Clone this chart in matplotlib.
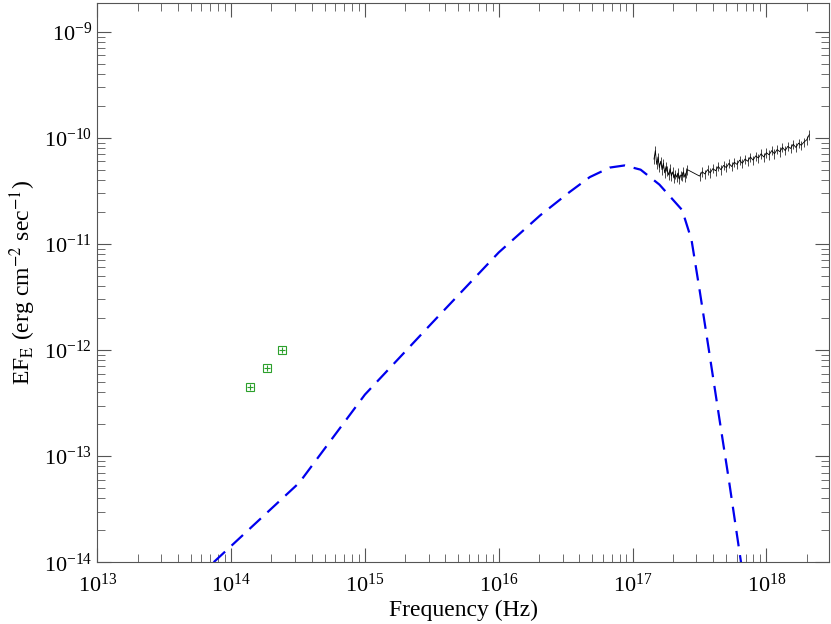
import numpy as np
import matplotlib
matplotlib.use('Agg')
import matplotlib.pyplot as plt

plt.rcParams['font.family'] = 'Liberation Serif'
plt.rcParams['mathtext.fontset'] = 'stix'

# optical points (green)
opt_freq = [1.38e14, 1.86e14, 2.40e14]
opt_flux = [4.5e-13, 6.8e-13, 1.0e-12]

# model curve (blue dashed), log10 values
model_logf = [13.87, 14.51, 15.0, 15.49, 16.0, 16.31, 16.53, 16.68, 16.83, 16.94,
              17.06, 17.20, 17.37, 17.44, 17.50, 17.57, 17.65, 17.72, 17.81]
model_logF = [-14.0, -13.25, -12.42, -11.76, -11.08, -10.73, -10.51, -10.37, -10.28, -10.26,
              -10.30, -10.44, -10.68, -10.96, -11.43, -12.0, -12.66, -13.23, -14.0]

# X-ray spectrum (black)
xray_logf = [17.16, 17.17, 17.18, 17.19, 17.20, 17.21, 17.22, 17.23, 17.24, 17.25, 17.26,
             17.27, 17.28, 17.29, 17.30, 17.31, 17.32, 17.33, 17.34, 17.35, 17.36, 17.37,
             17.38, 17.39, 17.40, 17.41,
             17.50, 17.52, 17.54, 17.56, 17.58, 17.60, 17.62, 17.64, 17.66, 17.68, 17.70,
             17.72, 17.74, 17.76, 17.78, 17.80, 17.82, 17.84, 17.86, 17.88, 17.90, 17.92,
             17.94, 17.96, 17.98, 18.00, 18.02, 18.04, 18.06, 18.08, 18.10, 18.12, 18.14,
             18.16, 18.18, 18.20, 18.22, 18.24, 18.26, 18.28, 18.30, 18.32]
xray_logF = [-10.20, -10.12, -10.25, -10.18, -10.28, -10.22, -10.30, -10.24, -10.33, -10.27, -10.31,
             -10.35, -10.29, -10.36, -10.32, -10.38, -10.34, -10.37, -10.33, -10.39, -10.35, -10.36,
             -10.32, -10.37, -10.33, -10.30,
             -10.36, -10.32, -10.34, -10.30, -10.33, -10.29, -10.31, -10.27, -10.30, -10.26, -10.28,
             -10.24, -10.27, -10.23, -10.25, -10.21, -10.24, -10.20, -10.22, -10.18, -10.21, -10.17,
             -10.19, -10.15, -10.18, -10.14, -10.16, -10.12, -10.15, -10.11, -10.13, -10.09, -10.12,
             -10.08, -10.10, -10.06, -10.09, -10.05, -10.07, -10.04, -10.02, -9.97]

fig = plt.figure(figsize=(8.31, 6.24), dpi=100)
ax = fig.add_axes([0.117, 0.099, 0.881, 0.896])

ax.plot(10**np.array(model_logf), 10**np.array(model_logF), color='#0000ee',
        ls=(0, (7, 4)), lw=1.6)
ax.errorbar(10**np.array(xray_logf), 10**np.array(xray_logF),
            yerr=10**np.array(xray_logF) * 0.1, color='black', lw=0.6, elinewidth=0.5)
ax.errorbar(opt_freq, opt_flux, xerr=np.array(opt_freq) * 0.05, yerr=np.array(opt_flux) * 0.07,
            fmt='s', mfc='none', mec='#2ca02c', ecolor='#2ca02c', ms=6, lw=0.8, mew=0.8)

ax.set_xscale('log')
ax.set_yscale('log')
ax.set_xlim(1e13, 10**18.47)
ax.set_ylim(1e-14, 10**-8.73)
ax.tick_params(which='both', direction='in', top=True, right=True, labelsize=16,
               color='#555555')
ax.tick_params(axis='x', pad=8)
ax.tick_params(which='major', length=10)
ax.tick_params(which='minor', length=6)
for s in ax.spines.values():
    s.set_color('#555555')
ax.set_xlabel('Frequency (Hz)', fontsize=17, labelpad=2)
ax.set_ylabel(r'EF$_\mathrm{E}$ (erg cm$^{-2}$ sec$^{-1}$)', fontsize=17)

fig.savefig('out.png', dpi=100)
